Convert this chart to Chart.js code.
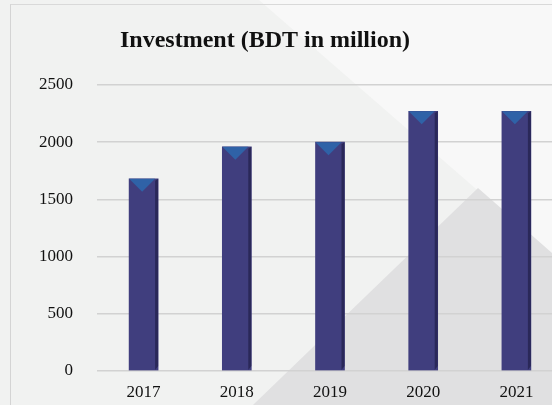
<!DOCTYPE html>
<html>
<head>
<meta charset="utf-8">
<script src="https://cdn.jsdelivr.net/npm/chart.js@4/dist/chart.umd.min.js"></script>
<style>
    html, body { margin: 0; padding: 0; }
    body { width: 552px; height: 405px; overflow: hidden; position: relative; background: #f1f2f1; }
    .panel { position: absolute; left: 0; top: 0; width: 552px; height: 405px; }
    .panel.light { background: #f8f8f8; clip-path: polygon(259px 0, 552px 0, 552px 255px); }
    .panel.dark { background: #e0e0e1; clip-path: polygon(478px 188px, 552px 253px, 552px 405px, 253px 405px); }
    .frame { position: absolute; left: 10px; top: 4px; width: 560px; height: 420px; border-left: 1px solid #d4d4d4; border-top: 1px solid #d9d9d9; }
    #wrap { position: absolute; left: 0; top: 0; width: 566px; height: 405px; }
</style>
</head>
<body>
<div class="panel light"></div>
<div class="panel dark"></div>
<div class="frame"></div>
<div id="wrap"><canvas id="investChart" width="566" height="405"></canvas></div>
<script>
'use strict';

const years = ['2017', '2018', '2019', '2020', '2021'];
const investment = [1680, 1960, 2000, 2270, 2270];
const yTicks = [0, 500, 1000, 1500, 2000, 2500];
const titleText = 'Investment (BDT in million)';

const colors = {
    bar: '#403e7e',
    cap: '#2f62a7',
    side: '#2a2859',
    grid: '#d2d2d2',
    text: '#111111',
};

// fake 3D look: dark right side and a pointed top face on each column
const columnFaces = {
    id: 'columnFaces',
    afterDatasetsDraw(chart) {
        const ctx = chart.ctx;
        chart.getDatasetMeta(0).data.forEach(bar => {
            const left = bar.x - bar.width / 2;
            const right = bar.x + bar.width / 2;
            const side = 3;
            ctx.save();
            ctx.fillStyle = colors.side;
            ctx.beginPath();
            ctx.moveTo(right - side, bar.y + 2);
            ctx.lineTo(right, bar.y);
            ctx.lineTo(right, bar.base - 4);
            ctx.lineTo(right - side, bar.base);
            ctx.closePath();
            ctx.fill();

            ctx.fillStyle = colors.cap;
            ctx.beginPath();
            ctx.moveTo(left, bar.y);
            ctx.lineTo(right - side, bar.y);
            ctx.lineTo((left + right - side) / 2, bar.y + 13);
            ctx.closePath();
            ctx.fill();
            ctx.restore();
        });
    }
};

// title sits over the left part of the canvas
const chartTitle = {
    id: 'chartTitle',
    afterDraw(chart) {
        const ctx = chart.ctx;
        ctx.save();
        ctx.font = 'bold 24px "Liberation Serif"';
        ctx.fillStyle = colors.text;
        ctx.textAlign = 'center';
        ctx.textBaseline = 'middle';
        ctx.fillText(titleText, 265, 41);
        ctx.restore();
    }
};

const tickFont = { family: 'Liberation Serif', size: 17 };

new Chart(document.getElementById('investChart'), {
    type: 'bar',
    data: {
        labels: years,
        datasets: [{
            label: titleText,
            data: investment,
            backgroundColor: colors.bar,
            barThickness: 29,
        }]
    },
    options: {
        responsive: false,
        animation: false,
        layout: { padding: { top: 85, right: 3, left: 0, bottom: 0 } },
        scales: {
            x: {
                grid: { display: false, drawTicks: false },
                border: { display: false },
                ticks: { color: colors.text, padding: 12, font: tickFont },
                afterFit(scale) { scale.height = 33; }
            },
            y: {
                min: 0,
                max: 2500,
                afterBuildTicks(scale) { scale.ticks = yTicks.map(v => ({ value: v })); },
                grid: { color: colors.grid, lineWidth: 1.5, drawTicks: false },
                border: { display: false },
                ticks: {
                    color: colors.text,
                    padding: 24,
                    font: tickFont,
                    callback: v => String(v)
                },
                afterFit(scale) { scale.width = 97; }
            }
        },
        plugins: {
            legend: { display: false },
            tooltip: { enabled: false },
            title: { display: false }
        }
    },
    plugins: [columnFaces, chartTitle]
});
</script>
</body>
</html>
